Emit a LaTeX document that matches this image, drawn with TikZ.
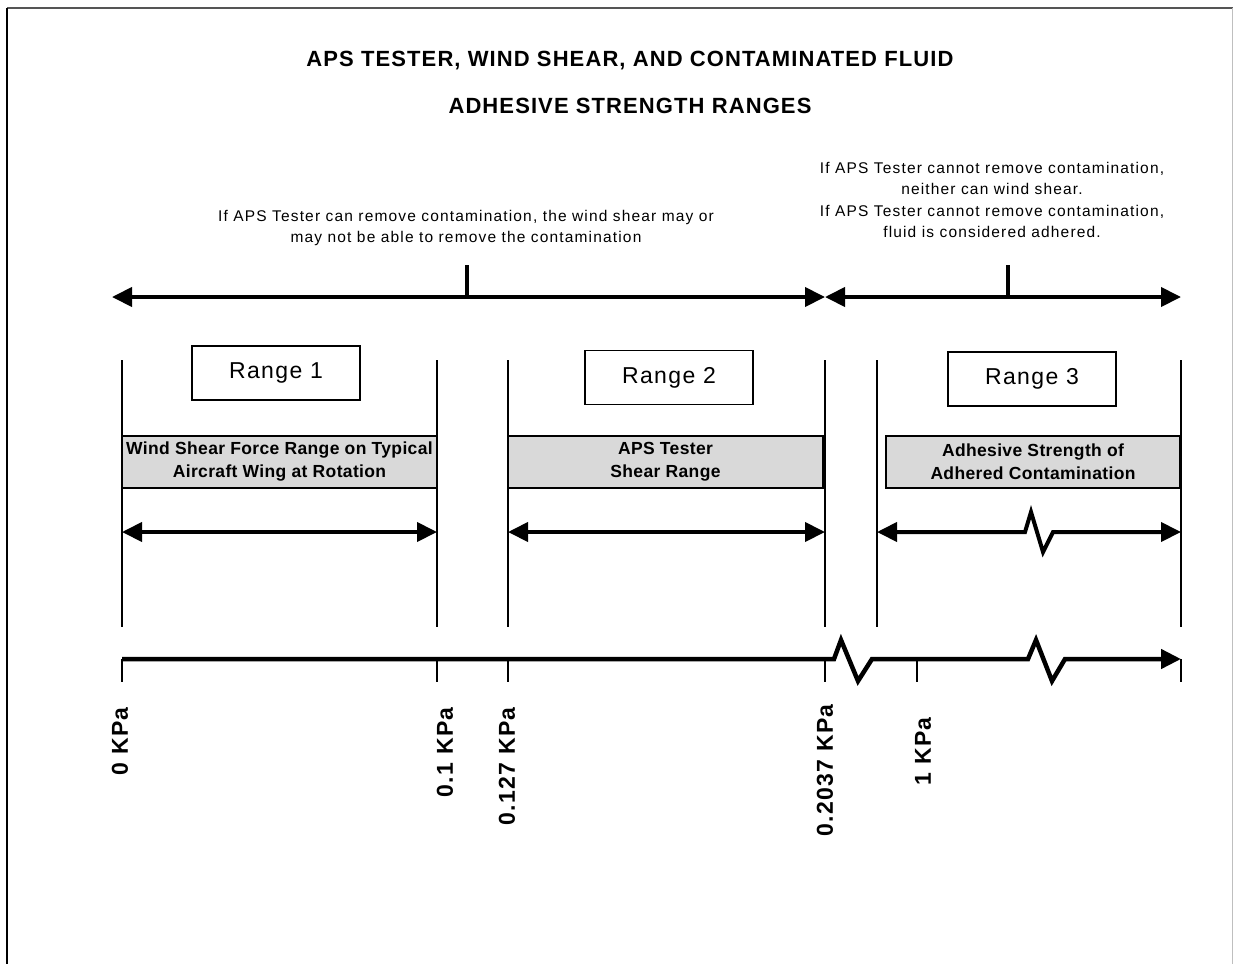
\documentclass[tikz,border=0pt]{standalone}
\usepackage{fontspec}
\setmainfont{Liberation Sans}
\newfontfamily\spacedA[LetterSpace=5]{Liberation Sans}
\newfontfamily\spacedB[LetterSpace=7.5]{Liberation Sans}
\newfontfamily\spacedC[LetterSpace=2]{Liberation Sans}
\newfontfamily\spacedD[LetterSpace=6]{Liberation Sans}
\usetikzlibrary{arrows.meta}
\definecolor{shade}{RGB}{217,217,217}
\definecolor{framegray}{RGB}{85,85,85}
\begin{document}
\begin{tikzpicture}[x=1pt,y=-1pt,
  heavy/.style={line width=4pt, line join=miter},
  thin/.style={line width=1.4pt},
  tipR/.style={-{Triangle[length=20pt,width=19pt]}},
  tipLR/.style={{Triangle[length=20pt,width=19pt]}-{Triangle[length=20pt,width=19pt]}},
  title/.style={font=\spacedA\bfseries\fontsize{22}{26}\selectfont, inner sep=0},
  note/.style={font=\spacedB\fontsize{15.5}{21.5}\selectfont, align=center, inner sep=0},
  rangebox/.style={draw, line width=1.2pt, minimum width=168pt, minimum height=54pt,
                   font=\spacedD\fontsize{23}{26}\selectfont, inner sep=0},
  bandbox/.style={draw, line width=1.2pt, fill=shade, minimum height=52pt,
                  font=\spacedC\bfseries\fontsize{17.5}{23}\selectfont, align=center, inner sep=0},
  kpa/.style={rotate=90, anchor=east, font=\spacedD\bfseries\fontsize{23}{26}\selectfont, inner sep=0}
]
\useasboundingbox (0,0) rectangle (1233,964);
\fill[white] (0,0) rectangle (1233,964);

% page frame
\draw[line width=2.2pt, framegray] (7,8) -- (1233,8);
\draw[line width=2.2pt] (7,8) -- (7,964);
\draw[line width=1pt, black!25] (1232,8) -- (1232,964);

% titles
\node[title] (t1) at (630,61) {APS TESTER, WIND SHEAR, AND CONTAMINATED FLUID};
\node[title] (t2) at (630,106) {ADHESIVE STRENGTH RANGES};

% notes above the top scale
\node[note] (noteA) at (466,228) {If APS Tester can remove contamination, the wind shear may or\\may not be able to remove the contamination};
\node[note] (noteB) at (992,200) {If APS Tester cannot remove contamination,\\neither can wind shear.\\If APS Tester cannot remove contamination,\\fluid is considered adhered.};

% top scale
\coordinate (topL) at (112,297);
\coordinate (topM) at (825,297);
\coordinate (topR) at (1181,297);
\coordinate (markA) at (467,265);
\coordinate (markB) at (1008,265);
\draw[heavy, tipLR] (topL) -- (topM);
\draw[heavy, tipLR] (topM) -- (topR);
\draw[heavy] (markA) -- (markA |- topL);
\draw[heavy] (markB) -- (markB |- topL);

% range boundaries
\foreach \x/\n in {122/a,437/b,508/c,825/d,877/e,1181/f}{
  \coordinate (up\n) at (\x,360);
  \coordinate (lo\n) at (\x,627);
  \draw[thin] (up\n) -- (lo\n);
}

% range labels
\node[rangebox] (r1) at (276,373) {Range 1};
\node[rangebox] (r2) at (669,377.5) {Range 2};
\node[rangebox] (r3) at (1032,379) {Range 3};

% shaded bands
\node[bandbox, minimum width=315pt] (b1) at (279.5,462) {Wind Shear Force Range on Typical\\Aircraft Wing at Rotation};
\node[bandbox, minimum width=315pt] (b2) at (665.5,462) {APS Tester\\Shear Range};
\node[bandbox, minimum width=294pt] (b3) at (1033,462) {Adhesive Strength of\\Adhered Contamination};

% span arrows
\coordinate (s1L) at (122,532); \coordinate (s1R) at (437,532);
\coordinate (s2L) at (508,532); \coordinate (s2R) at (825,532);
\coordinate (s3L) at (877,532); \coordinate (s3R) at (1181,532);
\draw[heavy, tipLR] (s1L) -- (s1R);
\draw[heavy, tipLR] (s2L) -- (s2R);
\draw[heavy, tipLR] (s3L) -- (1025,532) -- (1031,512) -- (1043,552) -- (1053,532) -- (s3R);

% pressure axis
\coordinate (ax0) at (122,659);
\coordinate (axE) at (1181,659);
\draw[line width=4.5pt, line join=miter, tipR] (ax0) -- (834,659) -- (841,640) -- (858,681) -- (872,659)
  -- (1028,659) -- (1036,640) -- (1052,681) -- (1065,659) -- (axE);
\foreach \x/\n in {122/a,437/b,508/c,825/d,917/e,1181/f}{
  \coordinate (tk\n) at (\x,659);
  \draw[thin] (tk\n) -- ++(0,23);
}

% axis values
\node[kpa] (v0) at (120,707) {0 KPa};
\node[kpa] (v1) at (445,707) {0.1 KPa};
\node[kpa] (v2) at (507,707) {0.127 KPa};
\node[kpa] (v3) at (825,704) {0.2037 KPa};
\node[kpa] (v4) at (923,717) {1 KPa};
\end{tikzpicture}
\end{document}
